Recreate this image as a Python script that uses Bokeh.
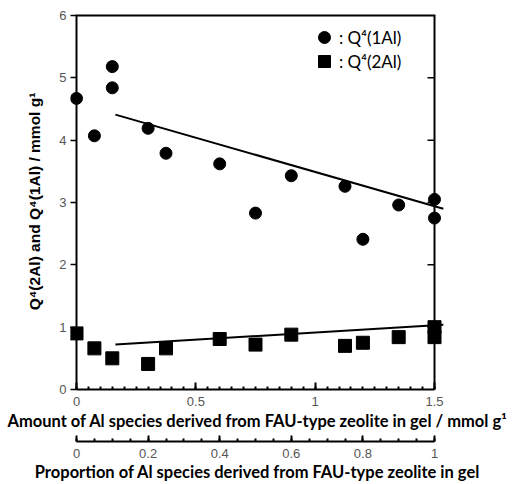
from bokeh.plotting import figure
from bokeh.models import (Range1d, LinearAxis, SingleIntervalTicker, FixedTicker,
                          NumeralTickFormatter, Legend, LegendItem)
from bokeh.embed import file_html
from bokeh.resources import INLINE

# ---- data ----
x_q1 = [0, 0.075, 0.15, 0.15, 0.3, 0.375, 0.6, 0.75, 0.9, 1.125, 1.2, 1.35, 1.5, 1.5]
q1_vals = [4.67, 4.07, 5.18, 4.84, 4.19, 3.79, 3.62, 2.83, 3.43, 3.26, 2.41, 2.96, 3.05, 2.75]
x_q2 = [0, 0.075, 0.15, 0.3, 0.375, 0.6, 0.75, 0.9, 1.125, 1.2, 1.35, 1.5, 1.5]
q2_vals = [0.90, 0.66, 0.50, 0.41, 0.66, 0.81, 0.72, 0.88, 0.70, 0.75, 0.84, 1.00, 0.84]
fit_x = [0.163, 1.537]
fit_q1 = [4.41, 2.90]
fit_q2 = [0.72, 1.04]

x_max = 1.5
y_max = 6
right_ticks = [1, 2, 3, 4, 5]
legend_labels = [": Q\u2074(1Al)", ": Q\u2074(2Al)"]
y_title = "Q\u2074(2Al) and Q\u2074(1Al) / mmol g\u00b9"
x_title = "Amount of Al species derived from FAU-type zeolite in gel / mmol g\u00b9"
x2_title = "Proportion of Al species derived from FAU-type zeolite in gel"

# ---- layout (canvas pixels) ----
W, H = 514, 484
frame_left, frame_right = 70, 444
axis_x0, axis_x1 = 76, 434        # pixel of x=0 and x=x_max
axis_y_top, axis_y0 = 15, 389     # pixel of y=y_max and y=0
frame_top = 13
ppu = (axis_x1 - axis_x0) / x_max
ppu_y = (axis_y0 - axis_y_top) / y_max
xs = -(axis_x0 - frame_left) / ppu
xe = x_max + (frame_right - axis_x1) / ppu
ye = y_max + (axis_y_top - frame_top) / ppu_y

TICK_FONT = "Liberation Sans"
TICK_COLOR = "#555555"
TITLE_FONT = "Lato"

p = figure(width=W, height=H, output_backend="svg", toolbar_location=None,
           x_range=Range1d(xs, xe), y_range=Range1d(0, ye),
           min_border_left=frame_left, min_border_right=W - frame_right,
           min_border_top=frame_top, min_border_bottom=0,
           x_axis_type=None, y_axis_type=None)
p.outline_line_color = None
p.xgrid.visible = False
p.ygrid.visible = False
p.background_fill_color = "white"
p.border_fill_color = "white"

p.extra_x_ranges = {"prop": Range1d(xs / x_max, xe / x_max)}

# bottom main axis
xa = LinearAxis(bounds=(0, x_max), ticker=SingleIntervalTicker(interval=0.5, num_minor_ticks=10),
                formatter=NumeralTickFormatter(format="0.[0]"))
xa.axis_line_width = 2
xa.major_tick_in = 7
xa.major_tick_out = 0
xa.minor_tick_in = 3
xa.minor_tick_out = 0
xa.major_tick_line_width = 2
xa.minor_tick_line_width = 2
xa.major_label_text_font = TICK_FONT
xa.major_label_text_font_size = "13px"
xa.major_label_text_color = TICK_COLOR
xa.major_label_standoff = 7
xa.axis_label = x_title
xa.axis_label_text_font = TITLE_FONT
xa.axis_label_text_font_style = "bold"
xa.axis_label_text_font_size = "16.5px"
xa.axis_label_text_color = "black"
xa.axis_label_standoff = 2
p.add_layout(xa, "below")

# invisible spacer between the two bottom axes
sp = LinearAxis(x_range_name="prop", ticker=FixedTicker(ticks=[]))
sp.axis_line_color = None
sp.major_tick_out = 0
sp.major_tick_in = 0
sp.major_label_standoff = 0
sp.major_tick_line_color = None
sp.minor_tick_line_color = None
sp.axis_label = "."
sp.axis_label_text_alpha = 0
sp.axis_label_text_font_size = "8px"
sp.axis_label_standoff = 0
p.add_layout(sp, "below")

# proportion axis
xb = LinearAxis(x_range_name="prop", bounds=(0, 1),
                ticker=SingleIntervalTicker(interval=0.2, num_minor_ticks=4),
                formatter=NumeralTickFormatter(format="0.[0]"))
xb.axis_line_width = 2
xb.major_tick_in = 6
xb.major_tick_out = 0
xb.minor_tick_in = 3
xb.minor_tick_out = 0
xb.major_tick_line_width = 2
xb.minor_tick_line_width = 2
xb.major_label_text_font = TICK_FONT
xb.major_label_text_font_size = "13px"
xb.major_label_text_color = TICK_COLOR
xb.major_label_standoff = 7
xb.axis_label = x2_title
xb.axis_label_text_font = TITLE_FONT
xb.axis_label_text_font_style = "bold"
xb.axis_label_text_font_size = "16.5px"
xb.axis_label_text_color = "black"
xb.axis_label_standoff = 1
p.add_layout(xb, "below")

# left axis (ticks and labels only; the frame line is drawn separately)
ya = LinearAxis(ticker=SingleIntervalTicker(interval=1, num_minor_ticks=0))
ya.axis_line_color = None
ya.major_tick_in = 6
ya.major_tick_out = 0
ya.major_tick_line_width = 1.5
ya.minor_tick_line_color = None
ya.major_label_text_font = TICK_FONT
ya.major_label_text_font_size = "13px"
ya.major_label_text_color = TICK_COLOR
ya.major_label_standoff = 4
ya.axis_label = y_title
ya.axis_label_text_font = "Liberation Sans"
ya.axis_label_text_font_style = "bold"
ya.axis_label_text_font_size = "15.5px"
ya.axis_label_text_color = "black"
ya.axis_label_standoff = 13
p.add_layout(ya, "left")

# frame lines: left, top, right
p.line([0, 0, x_max, x_max], [0, y_max, y_max, 0], line_color="black", line_width=2,
       line_join="miter")
# inward ticks on the right frame line
p.segment(x0=[x_max] * len(right_ticks), y0=right_ticks,
          x1=[x_max - 7 / ppu] * len(right_ticks), y1=right_ticks,
          line_color="black", line_width=1.5)

# data
r1 = p.scatter(x_q1, q1_vals, marker="circle", size=12, color="black")
r2 = p.scatter(x_q2, q2_vals, marker="square", size=13, color="black")
p.line(fit_x, fit_q1, line_color="black", line_width=2)
p.line(fit_x, fit_q2, line_color="black", line_width=2)

frame_h = axis_y0 - frame_top
for lab, rend, cy in [(legend_labels[0], r1, 37), (legend_labels[1], r2, 61)]:
    lg = Legend(items=[LegendItem(label=lab, renderers=[rend])],
                location=(324 - 15 - frame_left, frame_h - (cy - frame_top) - 15))
    lg.glyph_width = 30
    lg.glyph_height = 30
    lg.padding = 0
    lg.margin = 0
    lg.label_standoff = 0
    lg.border_line_color = None
    lg.background_fill_alpha = 0
    lg.label_text_font = TITLE_FONT
    lg.label_text_font_size = "17px"
    lg.label_text_color = "black"
    p.add_layout(lg, "center")

open("out.html", "w").write(file_html(p, INLINE))
